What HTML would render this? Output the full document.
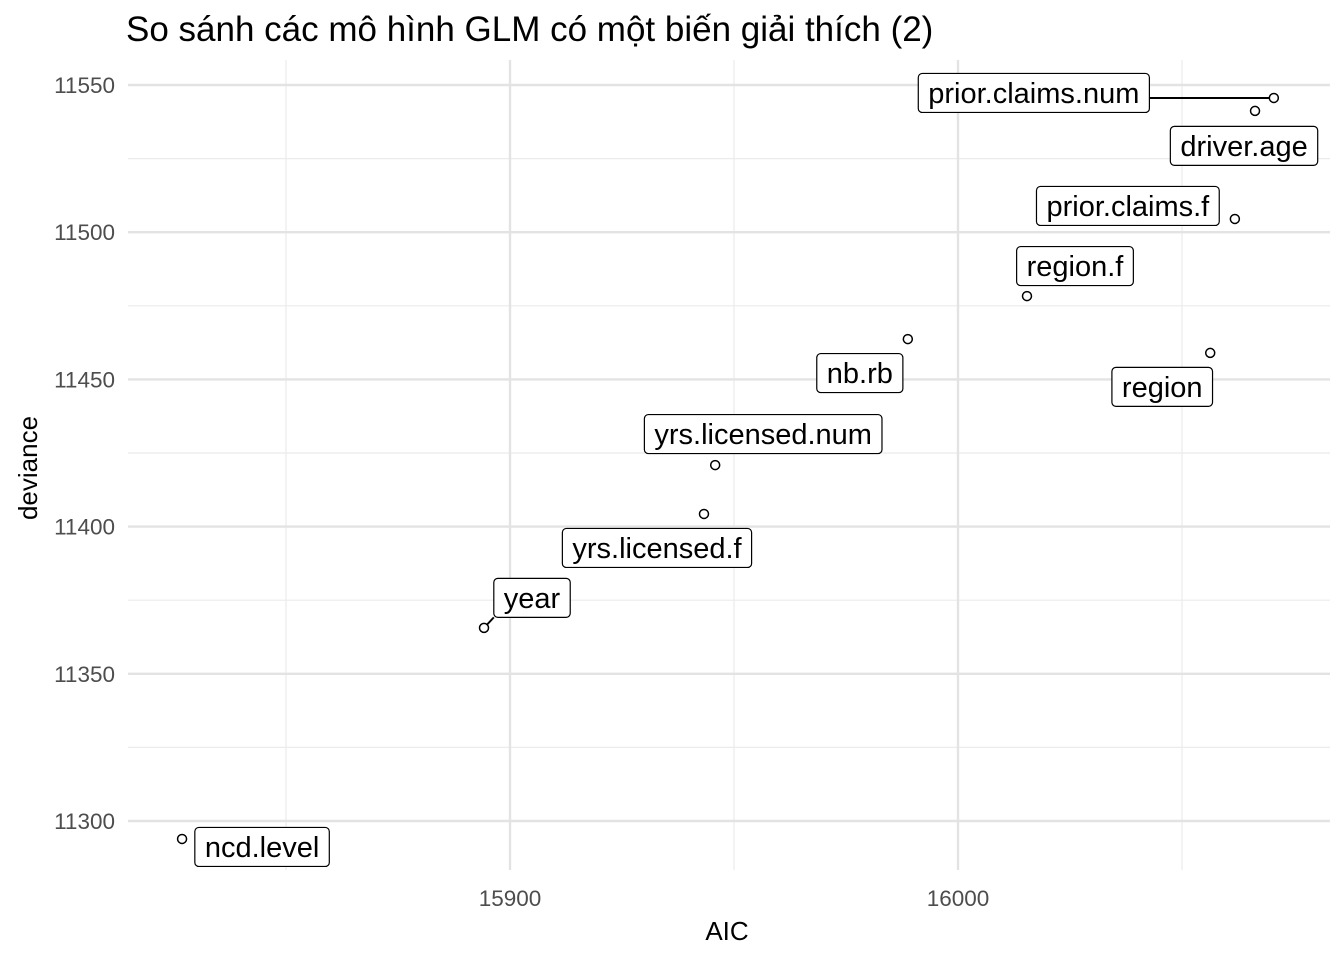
<!DOCTYPE html>
<html><head><meta charset="utf-8"><style>
body{margin:0;background:#fff}
svg{display:block;font-family:"Liberation Sans",Arial,sans-serif}
</style></head><body>
<svg id="chart" width="1344" height="960" viewBox="0 0 1344 960">
<text x="126" y="41" font-size="35" fill="#000">So sánh các mô hình GLM có một biến giải thích (2)</text>
<g id="grid"></g><g id="axes"></g><g id="marks"></g>
<text x="727" y="940" font-size="26" text-anchor="middle">AIC</text>
<text transform="translate(37,468) rotate(-90)" font-size="26" text-anchor="middle">deviance</text>
</svg>
<script>
const models=["ncd.level","year","yrs.licensed.f","yrs.licensed.num","nb.rb","region.f","region","prior.claims.f","driver.age","prior.claims.num"];
const aic=[15826.8,15894.2,15943.3,15945.8,15988.8,16015.4,16056.3,16061.8,16066.3,16070.5];
const deviance=[11293.9,11365.6,11404.3,11420.9,11463.7,11478.3,11459.0,11504.5,11541.2,11545.6];
const xTicks=[15900,16000];
const xMinor=[15850,15950,16050];
const yTicks=[11300,11350,11400,11450,11500,11550];
const yMinor=[11325,11375,11425,11475,11525];
const labelOffsets=[[80,8],[48,-30],[-47,34],[48,-31],[-48,34],[48,-30],[-48,34],[-107,-13],[-11,35],[-240,-5]];
const showSegment=[false,true,false,false,false,false,false,false,false,true];
const X=v=>510+(v-15900)*4.48, Y=v=>821-(v-11300)*2.944;
const ns="http://www.w3.org/2000/svg";
function mk(p,t,a){const e=document.createElementNS(ns,t);for(const k in a)e.setAttribute(k,a[k]);p.appendChild(e);return e;}
const grid=document.getElementById('grid'),axes=document.getElementById('axes'),marks=document.getElementById('marks');
const L=128,R=1330,T=60,B=870;
xMinor.forEach(v=>{const l=mk(grid,'line',{x1:X(v),x2:X(v),y1:T,y2:B,stroke:'#ebebeb','stroke-width':1.2});

});
yMinor.forEach(v=>{const l=mk(grid,'line',{x1:L,x2:R,y1:Y(v),y2:Y(v),stroke:'#ebebeb','stroke-width':1.2});

});
xTicks.forEach(v=>{const l=mk(grid,'line',{x1:X(v),x2:X(v),y1:T,y2:B,stroke:'#e3e3e3','stroke-width':2.4});


const t=mk(axes,'text',{x:X(v),y:906,'font-size':22.5,fill:'#4d4d4d','text-anchor':'middle'});t.textContent=v;

});
yTicks.forEach(v=>{const l=mk(grid,'line',{x1:L,x2:R,y1:Y(v),y2:Y(v),stroke:'#e3e3e3','stroke-width':2.4});


const t=mk(axes,'text',{x:115,y:Y(v)+8,'font-size':22.5,fill:'#4d4d4d','text-anchor':'end'});t.textContent=v;

});
models.forEach((m,i)=>{const px=X(aic[i]),py=Y(deviance[i]);
const cx=px+labelOffsets[i][0],cy=py+labelOffsets[i][1];
const g=mk(marks,'g',{});


const t=mk(g,'text',{x:cx,y:cy+10,'font-size':29,'text-anchor':'middle',fill:'#000'});t.textContent=m;
const w=t.getComputedTextLength()+20,h=39;
const bx=cx-w/2,by=cy-h/2;
const dx=Math.max(bx,Math.min(px,bx+w)),dy=Math.max(by,Math.min(py,by+h));
if(showSegment[i]){const s=mk(g,'line',{x1:px,y1:py,x2:dx,y2:dy,stroke:'#000','stroke-width':2});g.insertBefore(s,t);}
const r=mk(g,'rect',{x:bx,y:by,width:w,height:h,rx:4,fill:'#fff',stroke:'#000','stroke-width':1.2});g.insertBefore(r,t);
const c=mk(marks,'circle',{cx:px,cy:py,r:4.5,fill:'#fff',stroke:'#000','stroke-width':1.5});

});
</script>
</body></html>
